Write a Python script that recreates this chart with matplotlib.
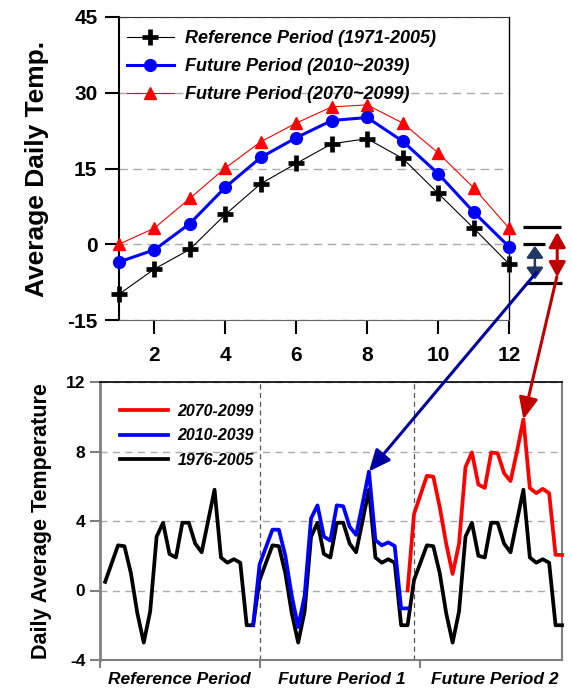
import matplotlib
matplotlib.use('Agg')
import matplotlib.pyplot as plt
from matplotlib.patches import ConnectionPatch

plt.rcParams['font.family'] = ['Liberation Sans', 'DejaVu Sans']

# ---------------- top panel data (monthly averages) ----------------
months = list(range(1, 13))
ref_monthly = [-9.9, -4.9, -1.0, 5.9, 12.0, 16.0, 19.9, 20.9, 17.0, 10.1, 3.2, -3.9]
fut1_monthly = [-3.5, -1.1, 4.1, 11.3, 17.2, 21.1, 24.5, 25.1, 20.4, 14.0, 6.4, -0.5]
fut2_monthly = [0.0, 3.2, 9.1, 15.1, 20.3, 24.0, 27.2, 27.6, 24.0, 18.1, 11.2, 3.2]
top_labels = ['Reference Period (1971-2005)', 'Future Period (2010~2039)',
              'Future Period (2070~2099)']
month_ticks = [2, 4, 6, 8, 10, 12]
temp_ticks = [-15, 0, 15, 30, 45]

# difference marks drawn to the right of the top panel (values in top-panel units)
diff_bars = [3.5, 0.0, -7.6]

# ---------------- bottom panel data (daily series) ----------------
ref_daily = [0.5, 1.55, 2.6, 2.55, 1.0, -1.3, -3.0, -1.2, 3.1, 3.9, 2.1, 1.9,
             3.9, 3.9, 2.7, 2.2, 4.0, 5.8, 1.9, 1.6, 1.8, 1.6, -2.0, -2.0,
             0.6, 1.6, 2.6, 2.55, 1.0, -1.3, -3.0, -1.2, 3.1, 3.9, 2.1, 1.9,
             3.9, 3.9, 2.7, 2.2, 4.0, 5.8, 1.9, 1.6, 1.8, 1.6, -2.0, -2.0,
             0.6, 1.6, 2.6, 2.55, 1.0, -1.3, -3.0, -1.2, 3.1, 3.9, 2.0, 1.9,
             3.9, 3.9, 2.7, 2.2, 4.0, 5.8, 1.9, 1.6, 1.8, 1.6, -2.0, -2.0]
fut1_start = 23
fut1_daily = [-2.0,
              1.5, 2.5, 3.5, 3.5, 2.0, -0.3, -2.1, -0.3, 4.15, 4.9, 3.1, 2.87,
              4.9, 4.85, 3.67, 3.2, 5.0, 6.85, 2.9, 2.6, 2.77, 2.56, -1.03, -1.03]
fut2_start = 47
fut2_daily = [0.0,
              4.4, 5.5, 6.6, 6.55, 4.8, 2.7, 0.95, 2.7, 7.1, 7.95, 6.1, 5.9,
              7.95, 7.9, 6.75, 6.3, 8.0, 9.85, 5.9, 5.6, 5.85, 5.6, 2.05, 2.05]
bottom_labels = ['2070-2099', '2010-2039', '1976-2005']
period_labels = ['Reference Period', 'Future Period 1', 'Future Period 2']
period_label_pos = [11.6, 36.7, 60.6]
period_bounds = [24, 48]
period_ticks = [-0.8, 24, 49]
daily_ticks = [-4, 0, 4, 8, 12]

W, H = 572, 694
fig = plt.figure(figsize=(W / 100, H / 100), dpi=100)

# ================= top panel =================
ax1 = fig.add_axes([119 / W, 1 - 320 / H, 390 / W, 303 / H])
ax1.set_xlim(1, 12)
ax1.set_ylim(-15, 45)
ax1.set_axisbelow(True)
ax1.yaxis.grid(True, color='#aaaaaa', linestyle=(0, (6, 4)), lw=1)

l_ref, = ax1.plot(months, ref_monthly, color='black', lw=0.8, marker='+', ms=11,
                  mew=3.4, clip_on=False, zorder=5)
l_f1, = ax1.plot(months, fut1_monthly, color='#0000ff', lw=2.2, marker='o', ms=8.5,
                 clip_on=False, zorder=4)
l_f2, = ax1.plot(months, fut2_monthly, color='#ff0000', lw=0.8, marker='^', ms=9,
                 clip_on=False, zorder=3)

ax1.set_xticks(month_ticks)
ax1.set_xticklabels([str(m) for m in month_ticks], fontsize=15, fontweight='bold')
ax1.set_yticks(temp_ticks)
ax1.set_yticklabels([str(t) for t in temp_ticks], fontsize=15, fontweight='bold')
ax1.tick_params(axis='both', direction='out', length=10, width=1.5, color='black')
ax1.tick_params(axis='x', pad=9)
ax1.tick_params(axis='y', pad=5.5)
ax1.spines['left'].set_linewidth(1.5)
ax1.spines['top'].set_color('#333333')
ax1.spines['right'].set_linewidth(1.0)
ax1.spines['bottom'].set_color('#666666')

ax1.set_ylabel('Average Daily Temp.', fontsize=19, fontweight='bold')
ax1.yaxis.set_label_coords((48.5 - 119) / 390, 0.5)

ax1.legend([l_ref, l_f1, l_f2], top_labels, loc='upper left',
           bbox_to_anchor=(8 / 390, 1 - 13 / 303), frameon=False, borderpad=0,
           borderaxespad=0, handlelength=2.6, handletextpad=0.6, labelspacing=0.62,
           numpoints=1, prop=dict(size=13, weight='bold', style='italic'))

# difference marks at right of top panel
bar_x = [(12.40, 13.47), (12.40, 13.02), (12.48, 13.50)]
for (x0, x1), yv in zip(bar_x, diff_bars):
    ax1.plot([x0, x1], [yv, yv], color='black', lw=2.3, clip_on=False,
             solid_capstyle='butt')
ax1.annotate('', xy=(12.73, diff_bars[1] - 0.3), xytext=(12.73, -7.0),
             arrowprops=dict(arrowstyle='<|-|>,head_length=0.7,head_width=0.5',
                             color='#1f3864', lw=1.8,
                             mutation_scale=10, shrinkA=0, shrinkB=0),
             annotation_clip=False)
ax1.annotate('', xy=(13.36, 2.4), xytext=(13.36, -6.5),
             arrowprops=dict(arrowstyle='<|-|>,head_length=0.9,head_width=0.5',
                             color='#c00000', lw=2.2,
                             mutation_scale=10, shrinkA=0, shrinkB=0),
             annotation_clip=False)

# ================= bottom panel =================
ax2 = fig.add_axes([100 / W, 1 - 660 / H, 462 / W, 278 / H])
ax2.set_xlim(-0.8, 71)
ax2.set_ylim(-4, 12)
ax2.set_axisbelow(True)
ax2.yaxis.grid(True, color='#aaaaaa', linestyle=(0, (5, 4)), lw=1)
for b in period_bounds:
    ax2.axvline(b, color='#555555', lw=0.9, ls=(0, (4, 3)), zorder=1)

x_ref = list(range(len(ref_daily)))
x_f1 = list(range(fut1_start, fut1_start + len(fut1_daily)))
x_f2 = list(range(fut2_start, fut2_start + len(fut2_daily)))
b_ref, = ax2.plot(x_ref, ref_daily, color='black', lw=2.7, zorder=3, clip_on=False)
b_f1, = ax2.plot(x_f1, fut1_daily, color='#0000ff', lw=2.7, zorder=4)
b_f2, = ax2.plot(x_f2, fut2_daily, color='#ff0000', lw=2.7, zorder=4, clip_on=False)

ax2.set_yticks(daily_ticks)
ax2.set_yticklabels([str(t) for t in daily_ticks], fontsize=12.5, fontweight='bold')
ax2.set_xticks(period_ticks)
ax2.set_xticklabels(['', '', ''])
ax2.set_xticks(period_label_pos, minor=True)
ax2.set_xticklabels(period_labels, minor=True, fontsize=12.5, fontweight='bold',
                    fontstyle='italic')
ax2.tick_params(axis='x', which='minor', length=0, pad=9)
ax2.tick_params(axis='x', which='major', direction='out', length=6, width=1.5,
                color='#808080')
ax2.tick_params(axis='y', direction='out', length=7, width=1.5, color='#808080',
                pad=3.5)
ax2.spines['left'].set_color('#808080')
ax2.spines['left'].set_linewidth(2)
ax2.spines['bottom'].set_color('#808080')
ax2.spines['bottom'].set_linewidth(1.5)
ax2.spines['right'].set_color('#808080')
ax2.spines['right'].set_linewidth(1.5)
ax2.spines['top'].set_linewidth(1.2)

ax2.set_ylabel('Daily Average Temperature', fontsize=15.5, fontweight='bold')
ax2.yaxis.set_label_coords((52 - 100) / 462, 0.5)

ax2.legend([b_f2, b_f1, b_ref], bottom_labels, loc='upper left',
           bbox_to_anchor=(20 / 462, 1 - 22 / 278), frameon=False, borderpad=0,
           borderaxespad=0, handlelength=3.0, handletextpad=0.6, labelspacing=0.58,
           prop=dict(size=11.5, weight='bold', style='italic'))

# ================= connecting arrows =================
lstyle = '-|>,head_length=0.5,head_width=0.22'
con1 = ConnectionPatch(xyA=(12.77, -5.6), coordsA=ax1.transData,
                       xyB=(41, fut1_daily[41 - fut1_start]), coordsB=ax2.transData,
                       arrowstyle=lstyle, color='#0000a0', lw=2.2, mutation_scale=26,
                       shrinkA=0, shrinkB=0, zorder=10)
fig.add_artist(con1)
con2 = ConnectionPatch(xyA=(13.35, -6.4), coordsA=ax1.transData,
                       xyB=(65, fut2_daily[65 - fut2_start]), coordsB=ax2.transData,
                       arrowstyle=lstyle, color='#c00000', lw=2.2, mutation_scale=26,
                       shrinkA=0, shrinkB=0, zorder=10)
fig.add_artist(con2)

fig.savefig('out.png', dpi=100)
